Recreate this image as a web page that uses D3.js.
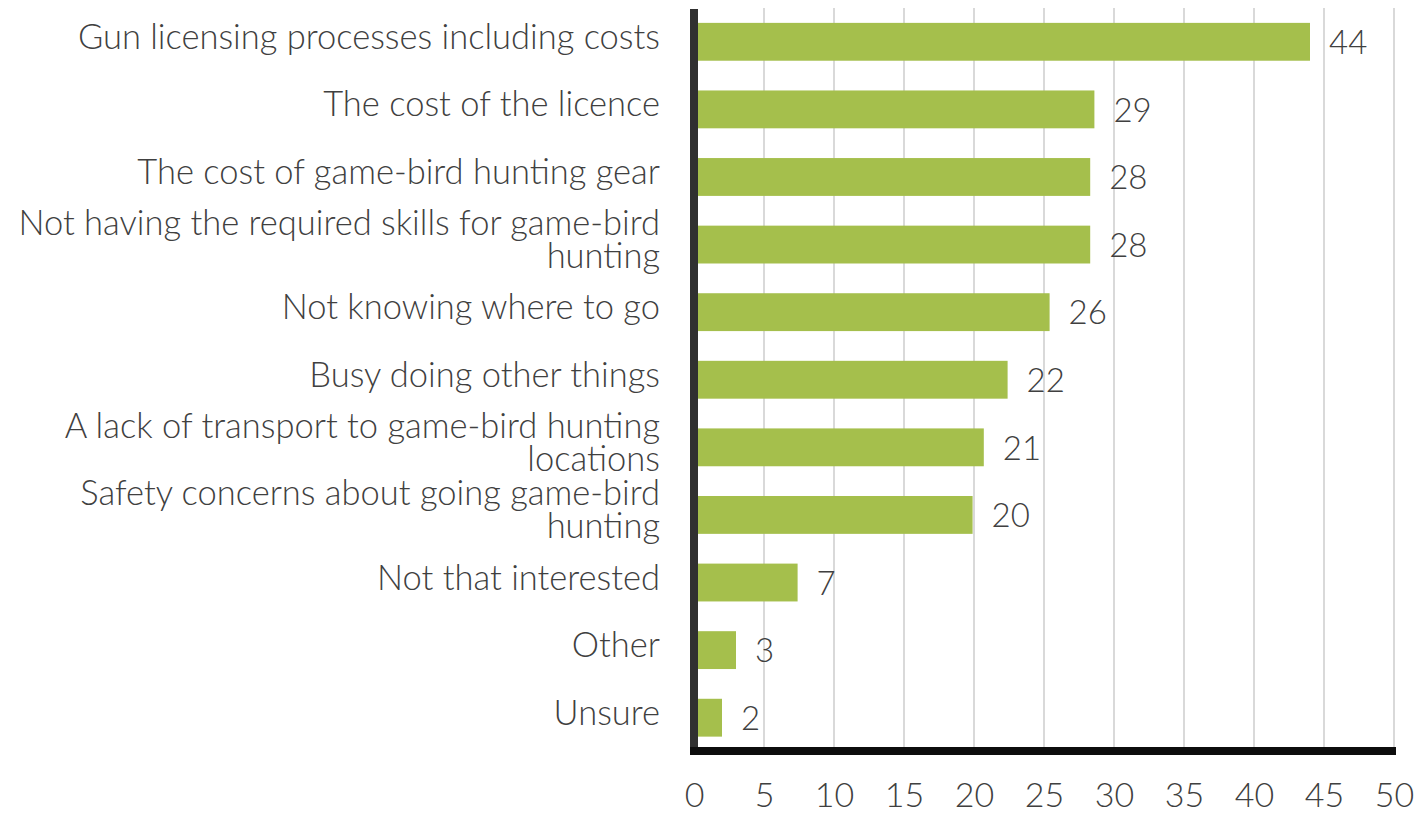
<!DOCTYPE html>
<html><head><meta charset="utf-8">
<script src="https://cdn.jsdelivr.net/npm/d3@7"></script>
<style>
html,body{margin:0;padding:0;background:#fff;}
svg text{font-family:Lato,"Open Sans",sans-serif;fill:#404040;font-weight:300;}
</style></head>
<body>
<svg id="chart" width="1415" height="816"></svg>
<script>
const categories = [
  ["Gun licensing processes including costs"],
  ["The cost of the licence"],
  ["The cost of game-bird hunting gear"],
  ["Not having the required skills for game-bird", "hunting"],
  ["Not knowing where to go"],
  ["Busy doing other things"],
  ["A lack of transport to game-bird hunting", "locations"],
  ["Safety concerns about going game-bird", "hunting"],
  ["Not that interested"],
  ["Other"],
  ["Unsure"]
];
const values = [44.0, 28.6, 28.3, 28.3, 25.4, 22.4, 20.7, 19.9, 7.4, 3.0, 2.0];
const valueLabels = ["44","29","28","28","26","22","21","20","7","3","2"];
const ticks = [0,5,10,15,20,25,30,35,40,45,50];

const svg = d3.select("#chart");
const x = d3.scaleLinear().domain([0,50]).range([694,1394]);
const y = d3.scaleBand().domain(d3.range(categories.length)).range([8,751.5]).paddingInner(0.44).paddingOuter(0.22);
const FS = 34.5;

// gridlines
svg.append("g").selectAll("line").data(ticks.slice(1)).join("line")
  .attr("x1",d=>x(d)).attr("x2",d=>x(d)).attr("y1",8).attr("y2",748)
  .attr("stroke","#d9d9d9").attr("stroke-width",2);

// bars
svg.append("g").selectAll("rect").data(values).join("rect")
  .attr("x",x(0)).attr("y",(d,i)=>y(i)).attr("width",d=>x(d)-x(0)).attr("height",y.bandwidth())
  .attr("fill","#a5bf4c");

// value labels
svg.append("g").selectAll("text").data(values).join("text")
  .attr("x",d=>x(d)+19).attr("y",(d,i)=>y(i)+y.bandwidth()/2+4)
  .attr("dominant-baseline","middle").attr("font-size",33)
  .text((d,i)=>valueLabels[i]);

// category labels
const cl = svg.append("g").selectAll("text").data(categories).join("text")
  .attr("text-anchor","end").attr("font-size",FS)
  .attr("x",660)
  .attr("y",(d,i)=>y(i)+y.bandwidth()/2 - 2 - (d.length-1)*16.5)
  .attr("dominant-baseline","middle");
cl.selectAll("tspan").data(d=>d).join("tspan")
  .attr("x",660).attr("dy",(d,j)=>j===0?0:33).text(d=>d);

// left axis
svg.append("line").attr("x1",694).attr("x2",694).attr("y1",9).attr("y2",755)
  .attr("stroke","#303030").attr("stroke-width",8);
// bottom axis
const xAxis = d3.axisBottom(x).tickValues(ticks).tickSize(0).tickPadding(32);
const gx = svg.append("g").attr("transform","translate(0,751)").call(xAxis);
gx.select(".domain").remove();
svg.append("line").attr("x1",690).attr("x2",1396).attr("y1",751).attr("y2",751)
  .attr("stroke","#0d0d0d").attr("stroke-width",8);
gx.selectAll("text").attr("font-size",34).attr("font-family","Lato,'Open Sans',sans-serif").attr("font-weight",300).attr("fill","#404040");
</script>
</body></html>
